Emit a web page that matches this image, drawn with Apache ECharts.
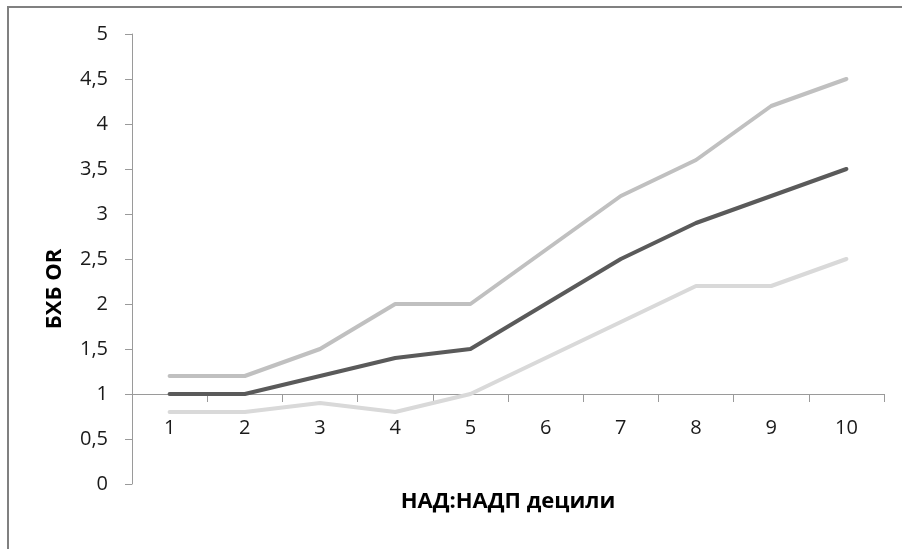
<!DOCTYPE html>
<html>
<head>
<meta charset="utf-8">
<script src="https://cdn.jsdelivr.net/npm/echarts@6/dist/echarts.min.js"></script>
<style>
  html, body { margin: 0; padding: 0; background: #fff; }
  #chart { width: 902px; height: 549px; }
</style>
</head>
<body>
<div id="chart"></div>
<script>
// Decile categories and odds-ratio series
const deciles = ['1', '2', '3', '4', '5', '6', '7', '8', '9', '10'];
const upperCI = [1.2, 1.2, 1.5, 2.0, 2.0, 2.6, 3.2, 3.6, 4.2, 4.5];
const oddsRatio = [1.0, 1.0, 1.2, 1.4, 1.5, 2.0, 2.5, 2.9, 3.2, 3.5];
const lowerCI = [0.8, 0.8, 0.9, 0.8, 1.0, 1.4, 1.8, 2.2, 2.2, 2.5];

const yMin = 0, yMax = 5, yStep = 0.5;
const crossAt = 1; // the category axis crosses the value axis here

const W = 902, H = 549;
const grid = { left: 132, right: 18, top: 34, bottom: 65 };
const plotH = H - grid.top - grid.bottom;
const axisLift = plotH * (crossAt - yMin) / (yMax - yMin);

const FONT = '"Open Sans", "Noto Sans", sans-serif';

const chart = echarts.init(document.getElementById('chart'), null, { renderer: 'canvas' });

function lineSeries(data, color) {
  return {
    type: 'line',
    data: data,
    symbol: 'none',
    lineStyle: { color: color, width: 4, cap: 'round', join: 'round' },
    itemStyle: { color: color },
    z: 3
  };
}

chart.setOption({
  animation: false,
  backgroundColor: '#fff',
  grid: grid,
  xAxis: {
    type: 'category',
    data: deciles,
    boundaryGap: true,
    position: 'bottom',
    offset: -axisLift,
    axisLine: { show: true, lineStyle: { color: '#9a9a9a', width: 1 } },
    axisTick: { show: true, alignWithLabel: false, length: 8, lineStyle: { color: '#9a9a9a' } },
    axisLabel: { margin: 24, color: '#1a1a1a', fontFamily: FONT, fontSize: 20 },
    splitLine: { show: false }
  },
  yAxis: {
    type: 'value',
    min: yMin,
    max: yMax,
    interval: yStep,
    axisLine: { show: true, lineStyle: { color: '#9a9a9a', width: 1 } },
    axisTick: { show: true, length: 7, lineStyle: { color: '#9a9a9a' } },
    axisLabel: {
      margin: 24,
      color: '#1a1a1a',
      fontFamily: FONT,
      fontSize: 20,
      formatter: v => String(v).replace('.', ',')
    },
    splitLine: { show: false }
  },
  series: [
    lineSeries(upperCI, '#c0c0c0'),
    lineSeries(lowerCI, '#d9d9d9'),
    lineSeries(oddsRatio, '#5a5a5a')
  ],
  graphic: [
    {
      type: 'rect',
      silent: true,
      shape: { x: 8, y: 7, width: 1000, height: 1000 },
      style: { fill: 'none', stroke: '#808080', lineWidth: 2 }
    },
    {
      type: 'text',
      silent: true,
      x: 55,
      y: 289,
      rotation: Math.PI / 2,
      style: {
        text: 'БХБ OR',
        fontFamily: FONT,
        fontWeight: 'bold',
        fontSize: 22,
        fill: '#000',
        align: 'center',
        verticalAlign: 'middle'
      }
    },
    {
      type: 'text',
      silent: true,
      x: 508,
      y: 502,
      style: {
        text: 'НАД:НАДП децили',
        fontFamily: FONT,
        fontWeight: 'bold',
        fontSize: 22,
        fill: '#000',
        align: 'center',
        verticalAlign: 'middle'
      }
    }
  ]
});
</script>
</body>
</html>
